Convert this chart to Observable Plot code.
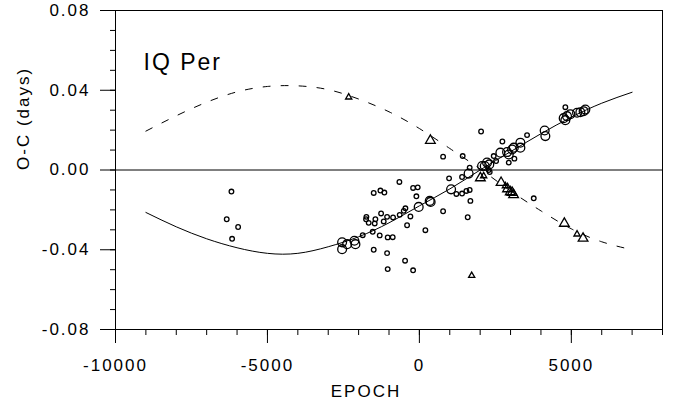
<!DOCTYPE html>
<html>
<head>
<meta charset="utf-8">
<script src="https://cdn.jsdelivr.net/npm/d3@7"></script>
<script src="https://cdn.jsdelivr.net/npm/@observablehq/plot@0.6"></script>
<style>
  html, body { margin: 0; padding: 0; background: #fff; }
  svg { display: block; }
</style>
</head>
<body>
<div id="chart"></div>
<script>
// ---- data ----
const smallCircEpoch = [-6185,-6340,-5965,-6163,2030,780,1425,1655,977,1404,-658,-1503,-1283,-1152,-207,-55,-99,1217,1404,1546,1655,1678,-460,-514,-296,780,1590,-648,-866,-1063,-1260,-1744,-1755,-1668,-1448,-1470,-1174,-405,197,-1536,-1306,-1865,-1043,-878,-1503,-1063,-471,-1043,-207,2731,3543,2446,2524,2281,2314,2941,3126,4803,3763];
const smallCircOC = [-0.0108,-0.0247,-0.0286,-0.0345,0.0193,0.0067,0.0070,0.0012,-0.0042,-0.0035,-0.0060,-0.0115,-0.0103,-0.0113,-0.0090,-0.0087,-0.0132,-0.0120,-0.0118,-0.0105,-0.0100,-0.0155,-0.0192,-0.0205,-0.0233,-0.0207,-0.0237,-0.0225,-0.0238,-0.0235,-0.0218,-0.0235,-0.0247,-0.0265,-0.0247,-0.0268,-0.0258,-0.0277,-0.0302,-0.0310,-0.0328,-0.0327,-0.0338,-0.0337,-0.0400,-0.0417,-0.0455,-0.0497,-0.0503,0.0143,0.0175,0.0070,0.0045,0.0000,-0.0010,0.0037,0.0057,0.0315,-0.0142];

const largeCircEpoch = [1620,1043,340,370,-23,-2543,-2543,-2378,-2138,-2105,2062,2226,2665,2885,2941,3050,3106,3323,3323,4122,4145,4748,4803,4858,4968,5188,5297,5405,5461,2150,2300];
const largeCircOC = [-0.0018,-0.0097,-0.0155,-0.0160,-0.0185,-0.0363,-0.0397,-0.0372,-0.0355,-0.0372,0.0020,0.0037,0.0087,0.0090,0.0078,0.0103,0.0112,0.0137,0.0112,0.0198,0.0170,0.0260,0.0250,0.0270,0.0280,0.0287,0.0290,0.0295,0.0303,0.0020,0.0028];

const smallTriEpoch = [-2326,1721,2115,2830,5188];
const smallTriOC = [0.0365,-0.0530,-0.0030,-0.0080,-0.0322];

const largeTriEpoch = [362,2007,2688,2900,2990,3100,3050,4770,5386];
const largeTriOC = [0.0148,-0.0040,-0.0063,-0.0095,-0.0110,-0.0125,-0.0113,-0.0268,-0.0343];

const curveEpoch = [-9000,-8000,-7000,-6000,-5000,-4000,-3000,-2000,-1000,0,1000,2000,3000,4000,5000,6000,7000];
const primaryCurve = [-0.0213,-0.0285,-0.0345,-0.0390,-0.0418,-0.0418,-0.0385,-0.0335,-0.0265,-0.0180,-0.0095,0.0000,0.0092,0.0182,0.0265,0.0335,0.0390];
const secondaryCurve = [0.0195,0.0272,0.0340,0.0392,0.0419,0.0422,0.0403,0.0356,0.0292,0.0208,0.0108,0.0005,-0.0105,-0.0205,-0.0295,-0.0360,-0.0400];

const xMajorTicks = [-10000,-5000,0,5000];
const xMinorTicks = [-10000,-9000,-8000,-7000,-6000,-5000,-4000,-3000,-2000,-1000,0,1000,2000,3000,4000,5000,6000,7000,8000];
const yMajorTicks = [-0.08,-0.04,0,0.04,0.08];
const yMinorTicks = [-0.08,-0.07,-0.06,-0.05,-0.04,-0.03,-0.02,-0.01,0,0.01,0.02,0.03,0.04,0.05,0.06,0.07,0.08];

const title = "IQ Per";
const xLabel = "EPOCH";
const yLabel = "O-C (days)";

// ---- tables ----
const zip = (xs, ys) => xs.map((x, i) => ({epoch: x, oc: ys[i]}));
const smallCirc = zip(smallCircEpoch, smallCircOC);
const largeCirc = zip(largeCircEpoch, largeCircOC);
const smallTri = zip(smallTriEpoch, smallTriOC);
const largeTri = zip(largeTriEpoch, largeTriOC);
const prim = zip(curveEpoch, primaryCurve);
const sec = zip(curveEpoch, secondaryCurve);

const font = "'Liberation Sans', Arial, Helvetica, sans-serif";

const chart = Plot.plot({
  width: 678,
  height: 408,
  marginLeft: 115,
  marginRight: 16,
  marginTop: 10,
  marginBottom: 79,
  style: {fontFamily: font, fontSize: "17px", letterSpacing: "2px", color: "black", background: "white"},
  x: {domain: [-10000, 8000], label: null},
  y: {domain: [-0.08, 0.08], label: null},
  marks: [
    Plot.frame({stroke: "black", strokeWidth: 1}),
    Plot.ruleY([0], {stroke: "black", strokeWidth: 1}),
    Plot.line(prim, {x: "epoch", y: "oc", curve: "natural", stroke: "black", strokeWidth: 1}),
    Plot.line(sec, {x: "epoch", y: "oc", curve: "natural", stroke: "black", strokeWidth: 1, strokeDasharray: "7,11"}),
    Plot.dot(smallCirc, {x: "epoch", y: "oc", r: 2.3, stroke: "black", strokeWidth: 1.3, fill: "none"}),
    Plot.dot(largeCirc, {x: "epoch", y: "oc", r: 4.4, stroke: "black", strokeWidth: 1.3, fill: "none"}),
    Plot.dot(smallTri, {x: "epoch", y: "oc", symbol: "triangle", r: 2.3, stroke: "black", strokeWidth: 1.3, fill: "none"}),
    Plot.dot(largeTri, {x: "epoch", y: "oc", symbol: "triangle", r: 3.6, stroke: "black", strokeWidth: 1.3, fill: "none"}),
    Plot.axisX(xMinorTicks, {tickSize: 6, tickFormat: () => "", label: null}),
    Plot.axisX(xMajorTicks, {tickSize: 14, tickPadding: 15, tickFormat: d => String(d), label: null, fontSize: 17}),
    Plot.axisY(yMinorTicks, {tickSize: 5, tickFormat: () => "", label: null}),
    Plot.axisY(yMajorTicks, {tickSize: 15, tickPadding: 10, tickFormat: d => d.toFixed(2), label: null, fontSize: 17}),
    Plot.text([title], {text: d => d, frameAnchor: "top-left", textAnchor: "start", dx: 28, dy: 43, fontSize: 23, letterSpacing: 1}),
    Plot.text([xLabel], {text: d => d, frameAnchor: "bottom", dx: -23, dy: 67, fontSize: 17}),
    Plot.text([yLabel], {text: d => d, frameAnchor: "left", rotate: -90, dx: -92, dy: 0, fontSize: 17})
  ]
});
document.getElementById("chart").appendChild(chart);
</script>
</body>
</html>
